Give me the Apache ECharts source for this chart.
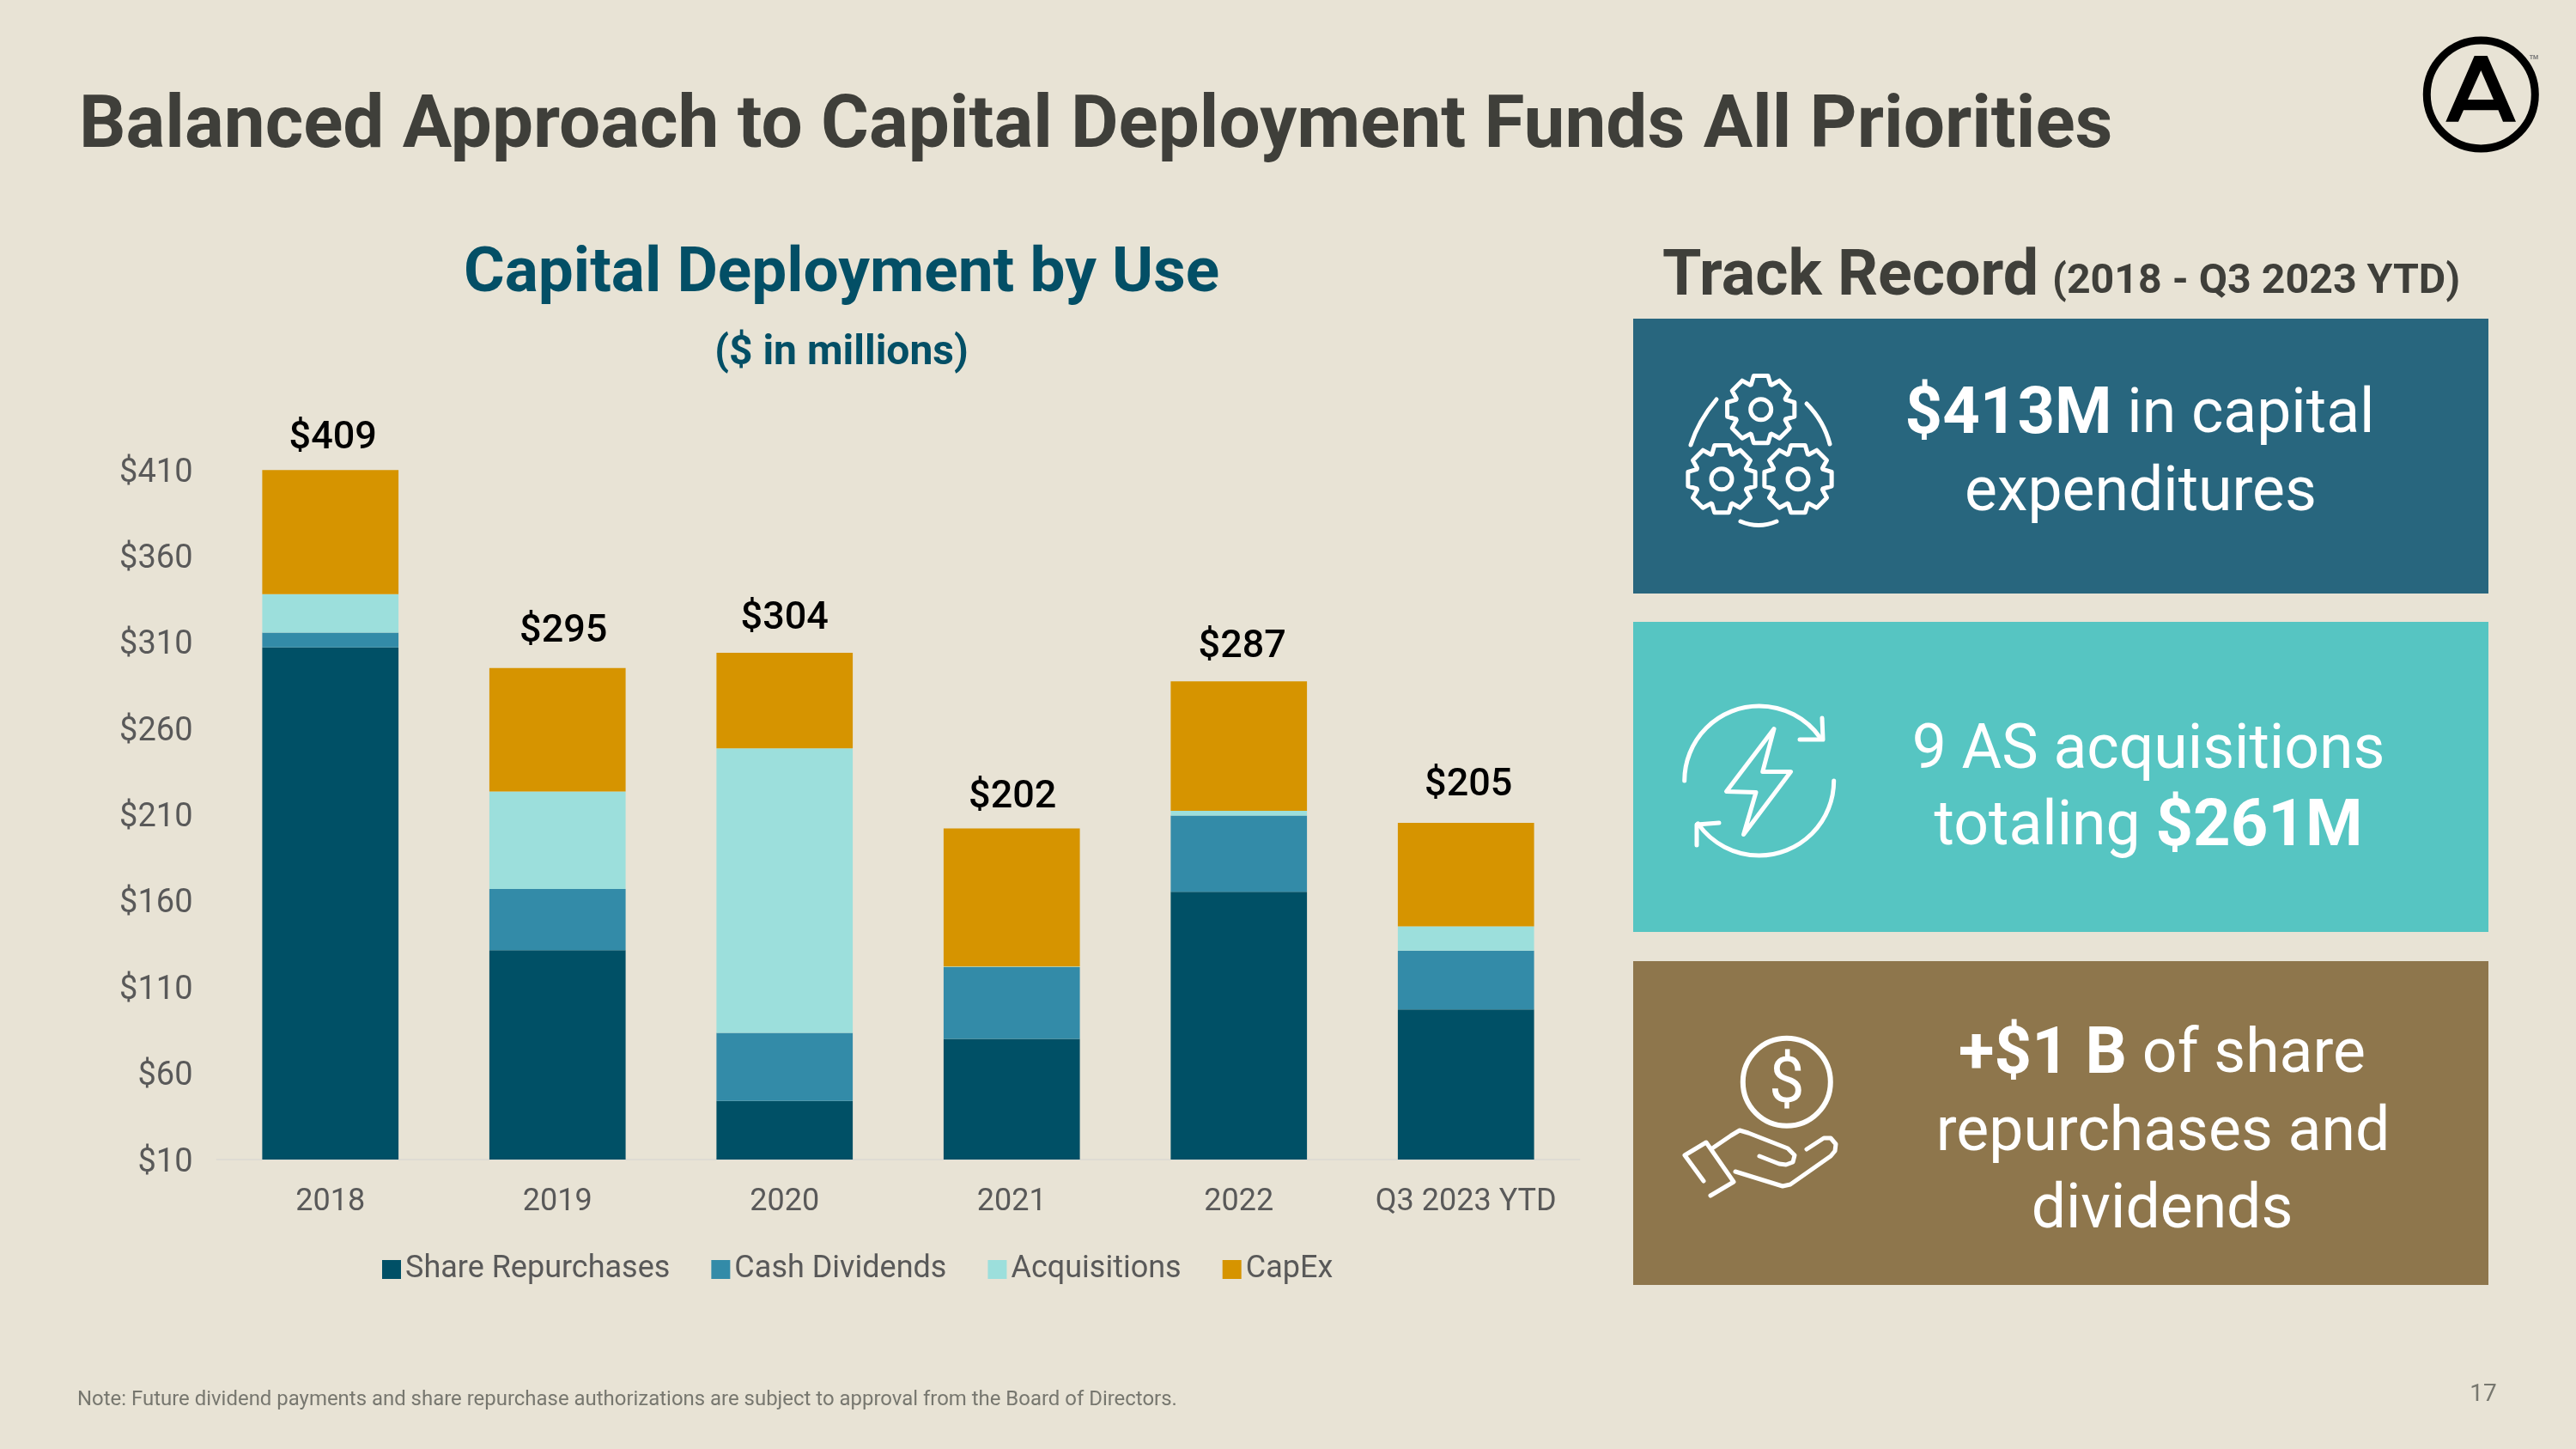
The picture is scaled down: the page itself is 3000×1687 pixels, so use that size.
<!DOCTYPE html>
<html>
<head>
<meta charset="utf-8">
<style>html,body{margin:0;padding:0;background:#E8E3D5}#c{width:3000px;height:1687px}</style>
<script src="https://cdn.jsdelivr.net/npm/echarts@6/dist/echarts.min.js"></script>
</head>
<body>
<div id="c"></div>
<script>
const categories = ['2018','2019','2020','2021','2022','Q3 2023 YTD'];
const shareRepurchases = [307, 131.4, 44, 80, 165.3, 97];
const cashDividends = [8.6, 35.5, 39.5, 41.6, 44.2, 34.2];
const acquisitions = [22.3, 56.6, 165, 0.4, 2.7, 14.1];
const capEx = [72, 71.5, 55.4, 80, 75.1, 60];
const totalLabels = ['$409','$295','$304','$202','$287','$205'];
const totalLabelNudge = [[3,3],[7,-3],[0,0],[1,4],[4,0],[3,-4]];

const FONT = 'Roboto, "Liberation Sans", sans-serif';
const BG = '#E8E3D5';
const INK = '#3F3F3A';
const TEAL = '#034F66';

function gear(cx, cy, rO, rI, n) {
  const pts = [];
  const step = Math.PI * 2 / n;
  for (let i = 0; i < n; i++) {
    const a = i * step - Math.PI / 2;
    [[-0.5, rI], [-0.28, rO], [0.28 - 0.0, rO], [0.5 - 0.0, rI]].forEach(p => {
      const t = a + p[0] * step * 0.95;
      pts.push([cx + p[1] * Math.cos(t), cy + p[1] * Math.sin(t)]);
    });
  }
  return pts;
}
const ICON = { stroke: '#fff', lineWidth: 5, fill: 'none', lineCap: 'round', lineJoin: 'round' };
function poly(points) { return { type: 'polyline', shape: { points }, style: ICON, z: 5 }; }
function polygon(points) { return { type: 'polygon', shape: { points }, style: ICON, z: 5 }; }
function ring(cx, cy, r, lw) { return { type: 'circle', shape: { cx, cy, r }, style: Object.assign({}, ICON, lw ? { lineWidth: lw } : {}), z: 5 }; }
function curve(x1, y1, cpx1, cpy1, x2, y2) { return { type: 'bezierCurve', shape: { x1, y1, x2, y2, cpx1, cpy1 }, style: ICON, z: 5 }; }
function arc(cx, cy, r, s, e) { return { type: 'arc', shape: { cx, cy, r, startAngle: s * Math.PI / 180, endAngle: e * Math.PI / 180, clockwise: true }, style: ICON, z: 5 }; }
function rect(x, y, width, height, fill) { return { type: 'rect', shape: { x, y, width, height }, style: { fill }, z: 1 }; }
function txt(text, x, y, size, weight, fill, align) {
  return { type: 'text', z: 6, x, y, style: { text, font: `${weight} ${size}px ${FONT}`, fill, textAlign: align || 'center', textVerticalAlign: 'middle' } };
}
function mixed(text, x, y) {
  const nSize = 71.5, bSize = 76;
  return { type: 'text', z: 6, x, y, style: { text, fill: '#fff', textAlign: 'center', textVerticalAlign: 'middle', fontFamily: FONT, fontSize: nSize,
    rich: { b: { fontFamily: FONT, fontSize: bSize, fontWeight: 700, fill: '#fff', color: '#fff' }, n: { fontFamily: FONT, fontSize: nSize, fontWeight: 400, fill: '#fff', color: '#fff' } } } };
}

const graphics = [
  rect(1902, 371, 996, 320, '#28667E'),
  rect(1902, 724, 996, 361, '#56C5C2'),
  rect(1902, 1119, 996, 377, '#8E764C'),

  // heading of the right column
  txt('Track Record', 1936, 325, 73.5, 700, INK, 'left'),
  txt('(2018 - Q3 2023 YTD)', 2390, 329, 48.3, 700, INK, 'left'),

  // panel texts
  mixed('{b|$413M}{n| in capital}', 2492, 485),
  mixed('{n|expenditures}', 2493, 576),
  mixed('{n|9 AS acquisitions}', 2502, 876),
  mixed('{n|totaling }{b|$261M}', 2502, 965),
  mixed('{b|+$1 B}{n| of share}', 2518, 1230),
  mixed('{n|repurchases and}', 2519, 1321),
  mixed('{n|dividends}', 2518, 1411),

  // gears icon
  polygon(gear(2050.7, 476.7, 40, 31, 8)), ring(2050.7, 476.7, 12),
  polygon(gear(2005, 557.7, 40, 31, 8)), ring(2005, 557.7, 12),
  polygon(gear(2094, 557.7, 40, 31, 8)), ring(2094, 557.7, 12),
  curve(1999, 465, 1978, 490, 1969, 518),
  curve(2104, 470, 2124, 490, 2131, 517),
  curve(2027, 607, 2048, 616, 2069, 607),

  // lightning icon
  arc(2048.7, 909, 87, 180, 325),
  arc(2048.7, 909, 87, 0, 145),
  poly([[2122, 836], [2123, 861], [2096, 861]]),
  poly([[1976, 984], [1976, 960], [2002, 958]]),
  polygon([[2066, 848.6], [2010.5, 921.5], [2045, 922.5], [2030.6, 971.5], [2085.5, 898.6], [2052.7, 898.6]]),

  // hand and coin icon
  ring(2080.8, 1259.8, 51, 6),
  txt('$', 2080.8, 1264, 74, 400, '#fff'),
  poly([[1994, 1337], [2016, 1322], [2026, 1316], [2036, 1319], [2082, 1337], [2090, 1345], [2088, 1353], [2080, 1356], [2072, 1355], [2049, 1346]]),
  poly([[2104, 1338], [2124, 1325], [2132, 1325], [2138, 1332], [2137, 1340], [2132, 1346], [2085, 1379], [2076, 1381], [2021, 1364]]),
  poly([[1984, 1375], [1962, 1345], [1987, 1330], [2019, 1376], [1992, 1392]]),

  // logo
  { type: 'circle', z: 5, shape: { cx: 2889.3, cy: 110, r: 63 }, style: { stroke: '#000', lineWidth: 9, fill: 'none' } },
  { type: 'polygon', z: 5, shape: { points: [[2881.7, 65], [2896.7, 65], [2930, 141.7], [2915, 141.7], [2909.5, 128.3], [2869, 128.3], [2863, 141.7], [2848.3, 141.7]] }, style: { fill: '#000' } },
  { type: 'polygon', z: 6, shape: { points: [[2889.3, 82], [2904, 116], [2874, 116]] }, style: { fill: BG } },
  txt('TM', 2951, 67, 7, 700, '#777'),

  // footer
  txt('Note: Future dividend payments and share repurchase authorizations are subject to approval from the Board of Directors.', 90, 1630, 23.95, 400, '#77776F', 'left'),
  txt('17', 2892, 1624, 28, 400, '#77776F')
];

const option = {
  backgroundColor: BG,
  animation: false,
  textStyle: { fontFamily: FONT },
  title: [
    { text: 'Balanced Approach to Capital Deployment Funds All Priorities', left: 87, top: 102, textStyle: { fontFamily: FONT, fontSize: 85.5, fontWeight: 700, color: INK } },
    { text: 'Capital Deployment by Use', left: 975, textAlign: 'center', top: 279, textStyle: { fontFamily: FONT, fontSize: 73, fontWeight: 700, color: TEAL } },
    { text: '($ in millions)', left: 975, textAlign: 'center', top: 383, textStyle: { fontFamily: FONT, fontSize: 48, fontWeight: 700, color: TEAL } }
  ],
  grid: { left: 252.5, right: 3000 - 1839.5, top: 547, height: 803, containLabel: false },
  legend: {
    left: 440, top: 1455, itemWidth: 22, itemHeight: 22, itemGap: 48, icon: 'rect',
    data: ['Share Repurchases', 'Cash Dividends', 'Acquisitions', 'CapEx'],
    textStyle: { fontFamily: FONT, fontSize: 36, color: '#595959' }
  },
  xAxis: {
    type: 'category', data: categories,
    axisTick: { show: false },
    axisLine: { lineStyle: { color: '#DEDBD3', width: 2 } },
    axisLabel: { interval: 0, hideOverlap: false, fontFamily: FONT, fontSize: 36, color: '#595959', margin: 32 }
  },
  yAxis: {
    type: 'value', min: 10, max: 410, interval: 50,
    splitLine: { show: false }, axisLine: { show: false }, axisTick: { show: false },
    axisLabel: { margin: 28, formatter: v => '{t|$' + v + '}',
      rich: { t: { fontFamily: FONT, fontSize: 38, color: '#595959', padding: [8, 0, 0, 0] } } }
  },
  series: [
    { name: 'Share Repurchases', type: 'bar', stack: 'use', barWidth: '60%', data: shareRepurchases, itemStyle: { color: '#005066' } },
    { name: 'Cash Dividends', type: 'bar', stack: 'use', data: cashDividends, itemStyle: { color: '#338BA8' } },
    { name: 'Acquisitions', type: 'bar', stack: 'use', data: acquisitions, itemStyle: { color: '#9CDFDC' } },
    { name: 'CapEx', type: 'bar', stack: 'use', itemStyle: { color: '#D69400' },
      data: capEx.map((v, i) => ({ value: v, label: { offset: totalLabelNudge[i] } })),
      label: { show: true, position: 'top', distance: 17, fontFamily: FONT, fontSize: 45, fontWeight: 500, color: '#000',
        formatter: p => totalLabels[p.dataIndex] } }
  ],
  graphic: { elements: graphics }
};
echarts.init(document.getElementById('c')).setOption(option);
</script>
</body>
</html>
